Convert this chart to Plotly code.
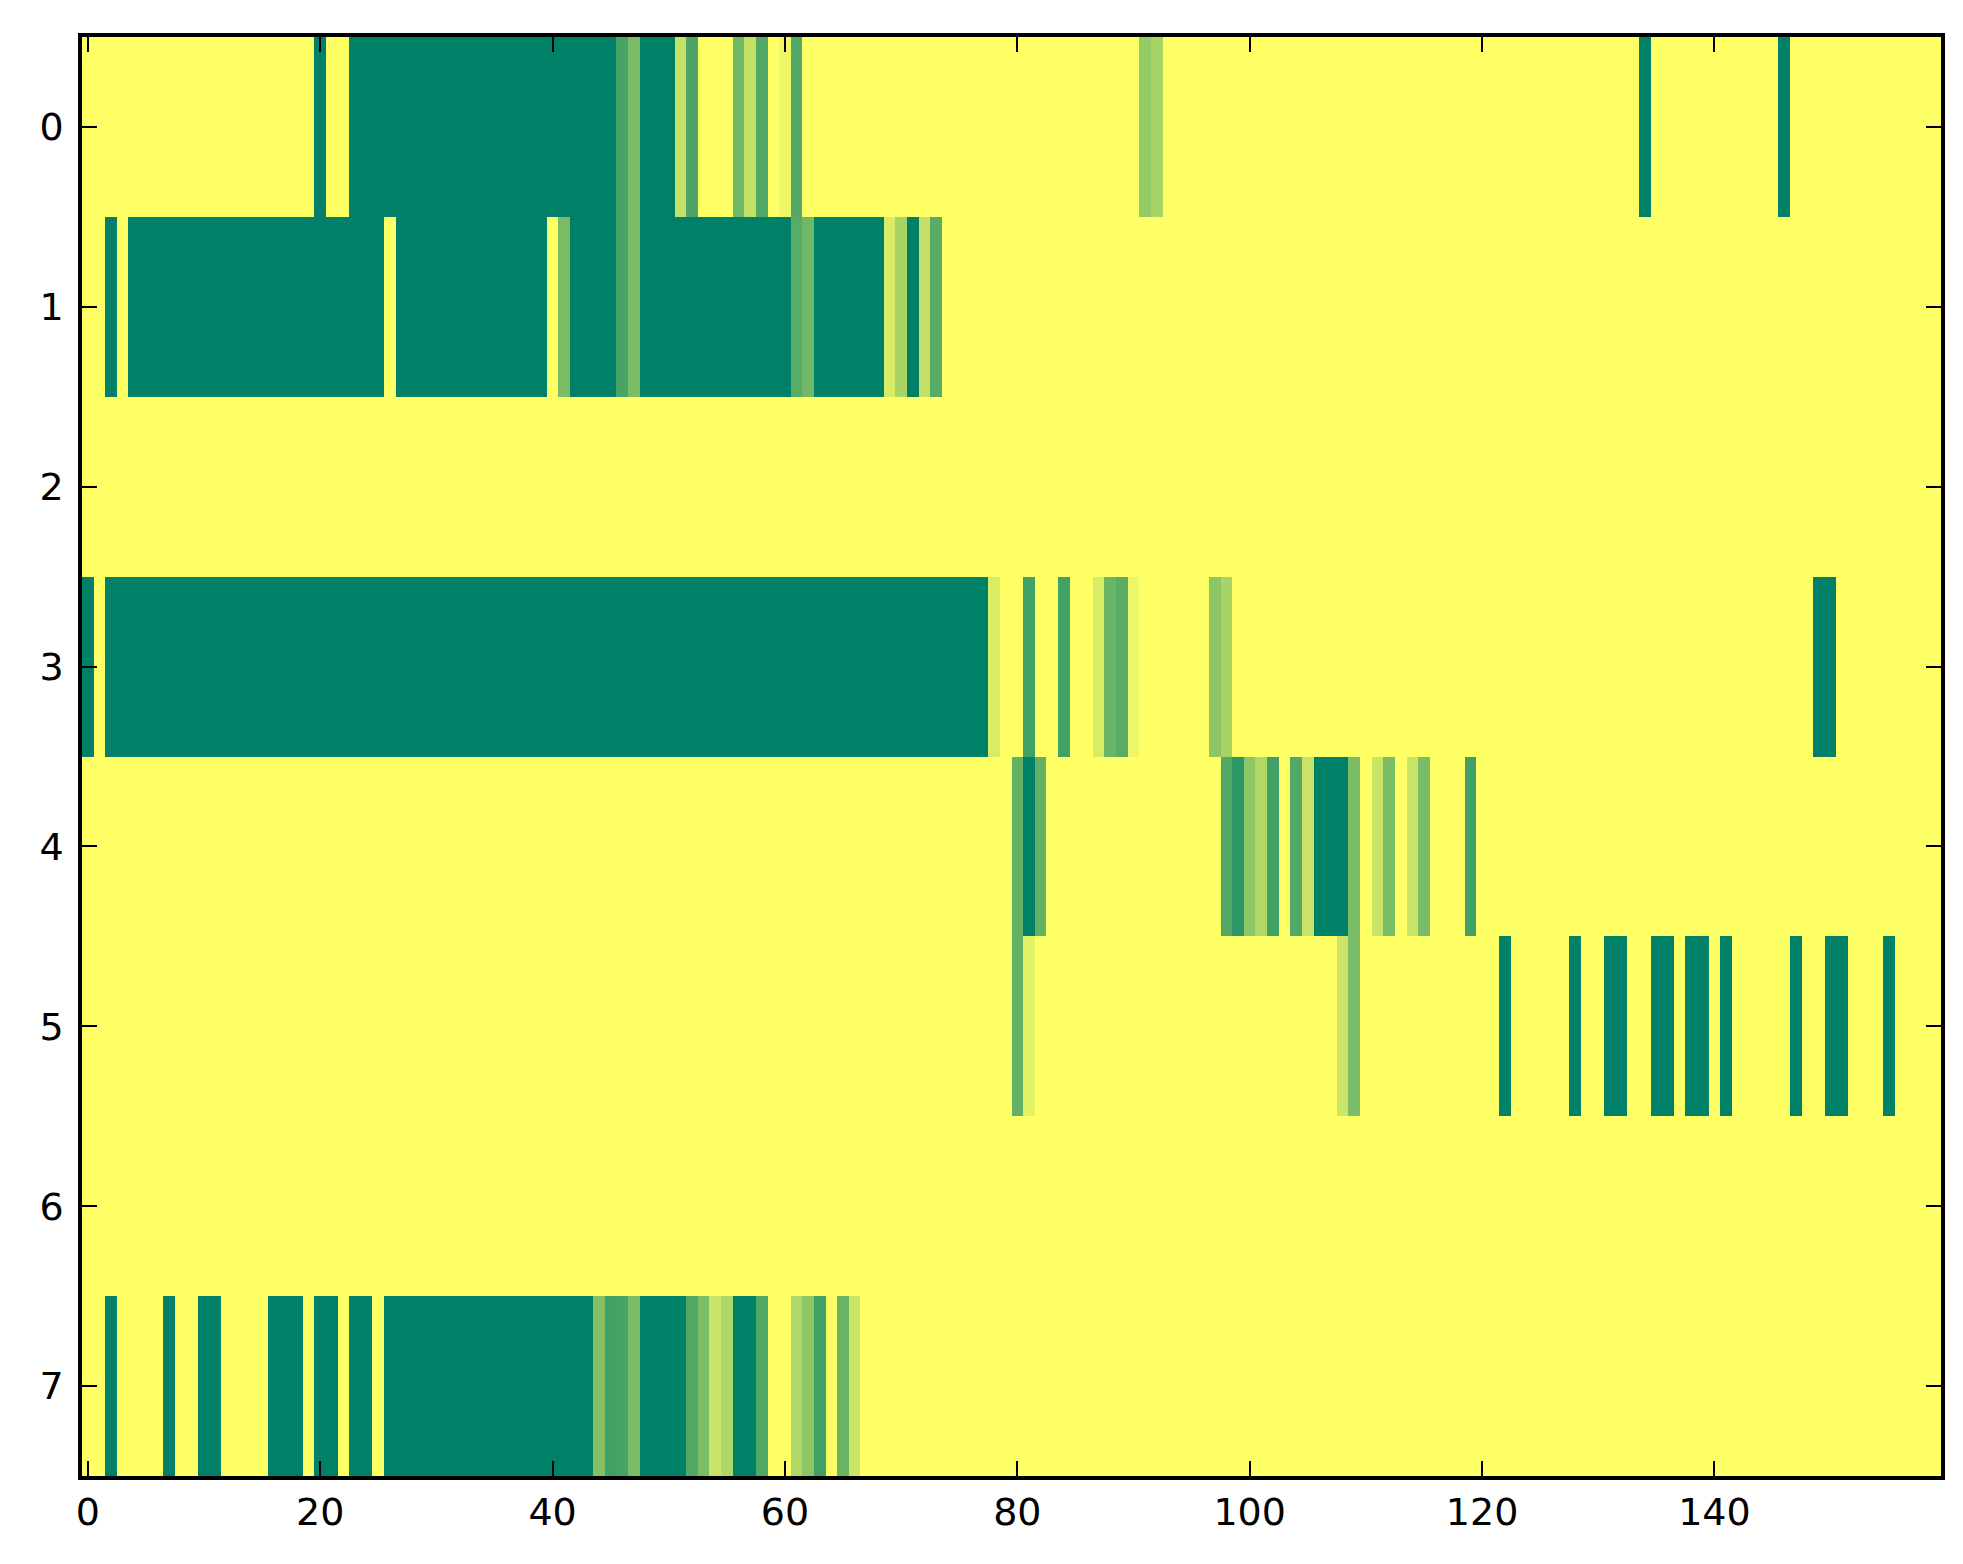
import plotly.graph_objects as go

# column / row indices of the image grid
columns = list(range(160))
rows = list(range(8))

# one list per row, 160 cells each (0 = yellow, 1 = dark green)
row_0 = [
    0, 0, 0, 0, 0, 0, 0, 0, 0, 0, 0, 0, 0, 0, 0, 0, 0, 0, 0, 0,
    1, 0, 0, 1, 1, 1, 1, 1, 1, 1, 1, 1, 1, 1, 1, 1, 1, 1, 1, 1,
    1, 1, 1, 1, 1, 1, 0.72, 0.52, 1, 1, 1, 0.24, 0.71, 0, 0, 0, 0.56, 0.24, 0.68, 0,
    0.07, 0.68, 0, 0, 0, 0, 0, 0, 0, 0, 0, 0, 0, 0, 0, 0, 0, 0, 0, 0,
    0, 0, 0, 0, 0, 0, 0, 0, 0, 0, 0, 0.42, 0.34, 0, 0, 0, 0, 0, 0, 0,
    0, 0, 0, 0, 0, 0, 0, 0, 0, 0, 0, 0, 0, 0, 0, 0, 0, 0, 0, 0,
    0, 0, 0, 0, 0, 0, 0, 0, 0, 0, 0, 0, 0, 0, 1, 0, 0, 0, 0, 0,
    0, 0, 0, 0, 0, 0, 1, 0, 0, 0, 0, 0, 0, 0, 0, 0, 0, 0, 0, 0,
]
row_1 = [
    0, 0, 1, 0, 1, 1, 1, 1, 1, 1, 1, 1, 1, 1, 1, 1, 1, 1, 1, 1,
    1, 1, 1, 1, 1, 1, 0, 1, 1, 1, 1, 1, 1, 1, 1, 1, 1, 1, 1, 1,
    0, 0.52, 1, 1, 1, 1, 0.72, 0.52, 1, 1, 1, 1, 1, 1, 1, 1, 1, 1, 1, 1,
    1, 0.65, 0.56, 1, 1, 1, 1, 1, 1, 0.15, 0.34, 1, 0.24, 0.65, 0, 0, 0, 0, 0, 0,
    0, 0, 0, 0, 0, 0, 0, 0, 0, 0, 0, 0, 0, 0, 0, 0, 0, 0, 0, 0,
    0, 0, 0, 0, 0, 0, 0, 0, 0, 0, 0, 0, 0, 0, 0, 0, 0, 0, 0, 0,
    0, 0, 0, 0, 0, 0, 0, 0, 0, 0, 0, 0, 0, 0, 0, 0, 0, 0, 0, 0,
    0, 0, 0, 0, 0, 0, 0, 0, 0, 0, 0, 0, 0, 0, 0, 0, 0, 0, 0, 0,
]
row_2 = [
    0, 0, 0, 0, 0, 0, 0, 0, 0, 0, 0, 0, 0, 0, 0, 0, 0, 0, 0, 0,
    0, 0, 0, 0, 0, 0, 0, 0, 0, 0, 0, 0, 0, 0, 0, 0, 0, 0, 0, 0,
    0, 0, 0, 0, 0, 0, 0, 0, 0, 0, 0, 0, 0, 0, 0, 0, 0, 0, 0, 0,
    0, 0, 0, 0, 0, 0, 0, 0, 0, 0, 0, 0, 0, 0, 0, 0, 0, 0, 0, 0,
    0, 0, 0, 0, 0, 0, 0, 0, 0, 0, 0, 0, 0, 0, 0, 0, 0, 0, 0, 0,
    0, 0, 0, 0, 0, 0, 0, 0, 0, 0, 0, 0, 0, 0, 0, 0, 0, 0, 0, 0,
    0, 0, 0, 0, 0, 0, 0, 0, 0, 0, 0, 0, 0, 0, 0, 0, 0, 0, 0, 0,
    0, 0, 0, 0, 0, 0, 0, 0, 0, 0, 0, 0, 0, 0, 0, 0, 0, 0, 0, 0,
]
row_3 = [
    1, 0, 1, 1, 1, 1, 1, 1, 1, 1, 1, 1, 1, 1, 1, 1, 1, 1, 1, 1,
    1, 1, 1, 1, 1, 1, 1, 1, 1, 1, 1, 1, 1, 1, 1, 1, 1, 1, 1, 1,
    1, 1, 1, 1, 1, 1, 1, 1, 1, 1, 1, 1, 1, 1, 1, 1, 1, 1, 1, 1,
    1, 1, 1, 1, 1, 1, 1, 1, 1, 1, 1, 1, 1, 1, 1, 1, 1, 1, 0.15, 0,
    0, 0.75, 0, 0, 0.75, 0, 0, 0.15, 0.59, 0.65, 0.07, 0, 0, 0, 0, 0, 0, 0.45, 0.34, 0,
    0, 0, 0, 0, 0, 0, 0, 0, 0, 0, 0, 0, 0, 0, 0, 0, 0, 0, 0, 0,
    0, 0, 0, 0, 0, 0, 0, 0, 0, 0, 0, 0, 0, 0, 0, 0, 0, 0, 0, 0,
    0, 0, 0, 0, 0, 0, 0, 0, 0, 1, 1, 0, 0, 0, 0, 0, 0, 0, 0, 0,
]
row_4 = [
    0, 0, 0, 0, 0, 0, 0, 0, 0, 0, 0, 0, 0, 0, 0, 0, 0, 0, 0, 0,
    0, 0, 0, 0, 0, 0, 0, 0, 0, 0, 0, 0, 0, 0, 0, 0, 0, 0, 0, 0,
    0, 0, 0, 0, 0, 0, 0, 0, 0, 0, 0, 0, 0, 0, 0, 0, 0, 0, 0, 0,
    0, 0, 0, 0, 0, 0, 0, 0, 0, 0, 0, 0, 0, 0, 0, 0, 0, 0, 0, 0,
    0.62, 1, 0.62, 0, 0, 0, 0, 0, 0, 0, 0, 0, 0, 0, 0, 0, 0, 0, 0.68, 0.82,
    0.45, 0.31, 0.75, 0, 0.68, 0.21, 1, 1, 1, 0.52, 0, 0.21, 0.52, 0, 0.21, 0.52, 0, 0, 0, 0.75,
    0, 0, 0, 0, 0, 0, 0, 0, 0, 0, 0, 0, 0, 0, 0, 0, 0, 0, 0, 0,
    0, 0, 0, 0, 0, 0, 0, 0, 0, 0, 0, 0, 0, 0, 0, 0, 0, 0, 0, 0,
]
row_5 = [
    0, 0, 0, 0, 0, 0, 0, 0, 0, 0, 0, 0, 0, 0, 0, 0, 0, 0, 0, 0,
    0, 0, 0, 0, 0, 0, 0, 0, 0, 0, 0, 0, 0, 0, 0, 0, 0, 0, 0, 0,
    0, 0, 0, 0, 0, 0, 0, 0, 0, 0, 0, 0, 0, 0, 0, 0, 0, 0, 0, 0,
    0, 0, 0, 0, 0, 0, 0, 0, 0, 0, 0, 0, 0, 0, 0, 0, 0, 0, 0, 0,
    0.62, 0.11, 0, 0, 0, 0, 0, 0, 0, 0, 0, 0, 0, 0, 0, 0, 0, 0, 0, 0,
    0, 0, 0, 0, 0, 0, 0, 0, 0.21, 0.52, 0, 0, 0, 0, 0, 0, 0, 0, 0, 0,
    0, 0, 1, 0, 0, 0, 0, 0, 1, 0, 0, 1, 1, 0, 0, 1, 1, 0, 1, 1,
    0, 1, 0, 0, 0, 0, 0, 1, 0, 0, 1, 1, 0, 0, 0, 1, 0, 0, 0, 0,
]
row_6 = [
    0, 0, 0, 0, 0, 0, 0, 0, 0, 0, 0, 0, 0, 0, 0, 0, 0, 0, 0, 0,
    0, 0, 0, 0, 0, 0, 0, 0, 0, 0, 0, 0, 0, 0, 0, 0, 0, 0, 0, 0,
    0, 0, 0, 0, 0, 0, 0, 0, 0, 0, 0, 0, 0, 0, 0, 0, 0, 0, 0, 0,
    0, 0, 0, 0, 0, 0, 0, 0, 0, 0, 0, 0, 0, 0, 0, 0, 0, 0, 0, 0,
    0, 0, 0, 0, 0, 0, 0, 0, 0, 0, 0, 0, 0, 0, 0, 0, 0, 0, 0, 0,
    0, 0, 0, 0, 0, 0, 0, 0, 0, 0, 0, 0, 0, 0, 0, 0, 0, 0, 0, 0,
    0, 0, 0, 0, 0, 0, 0, 0, 0, 0, 0, 0, 0, 0, 0, 0, 0, 0, 0, 0,
    0, 0, 0, 0, 0, 0, 0, 0, 0, 0, 0, 0, 0, 0, 0, 0, 0, 0, 0, 0,
]
row_7 = [
    0, 0, 1, 0, 0, 0, 0, 1, 0, 0, 1, 1, 0, 0, 0, 0, 1, 1, 1, 0,
    1, 1, 0, 1, 1, 0, 1, 1, 1, 1, 1, 1, 1, 1, 1, 1, 1, 1, 1, 1,
    1, 1, 1, 1, 0.49, 0.75, 0.72, 0.52, 1, 1, 1, 1, 0.68, 0.52, 0.21, 0.31, 1, 1, 0.68, 0,
    0, 0.31, 0.45, 0.75, 0, 0.59, 0.21, 0, 0, 0, 0, 0, 0, 0, 0, 0, 0, 0, 0, 0,
    0, 0, 0, 0, 0, 0, 0, 0, 0, 0, 0, 0, 0, 0, 0, 0, 0, 0, 0, 0,
    0, 0, 0, 0, 0, 0, 0, 0, 0, 0, 0, 0, 0, 0, 0, 0, 0, 0, 0, 0,
    0, 0, 0, 0, 0, 0, 0, 0, 0, 0, 0, 0, 0, 0, 0, 0, 0, 0, 0, 0,
    0, 0, 0, 0, 0, 0, 0, 0, 0, 0, 0, 0, 0, 0, 0, 0, 0, 0, 0, 0,
]

x_ticks = [0, 20, 40, 60, 80, 100, 120, 140]
y_ticks = [0, 1, 2, 3, 4, 5, 6, 7]

# matplotlib "summer_r"
summer_r = [[0.0, 'rgb(255,255,102)'], [1.0, 'rgb(0,128,102)']]


def main():
    z = [row_0, row_1, row_2, row_3, row_4, row_5, row_6, row_7]

    fig = go.Figure()
    fig.add_trace(go.Heatmap(
        z=z, x=columns, y=rows,
        colorscale=summer_r, zmin=0, zmax=1,
        showscale=False, hoverongaps=False,
    ))

    axis_style = dict(
        showline=True, linecolor='black', linewidth=3.5, mirror='ticks',
        ticks='inside', ticklen=15, tickwidth=2, tickcolor='black',
        showgrid=False, zeroline=False,
        tickfont=dict(family='DejaVu Sans', size=38, color='black'),
    )

    fig.update_layout(
        width=1963, height=1564,
        margin=dict(l=74, r=30, t=29, b=96),
        paper_bgcolor='white', plot_bgcolor='white',
        xaxis=dict(range=[-0.5, 159.5], tickvals=x_ticks, ticklabelstandoff=0, **axis_style),
        yaxis=dict(range=[7.5, -0.5], tickvals=y_ticks, ticklabelstandoff=7, **axis_style),
    )

    fig.write_html('out.html')


if __name__ == '__main__':
    main()
